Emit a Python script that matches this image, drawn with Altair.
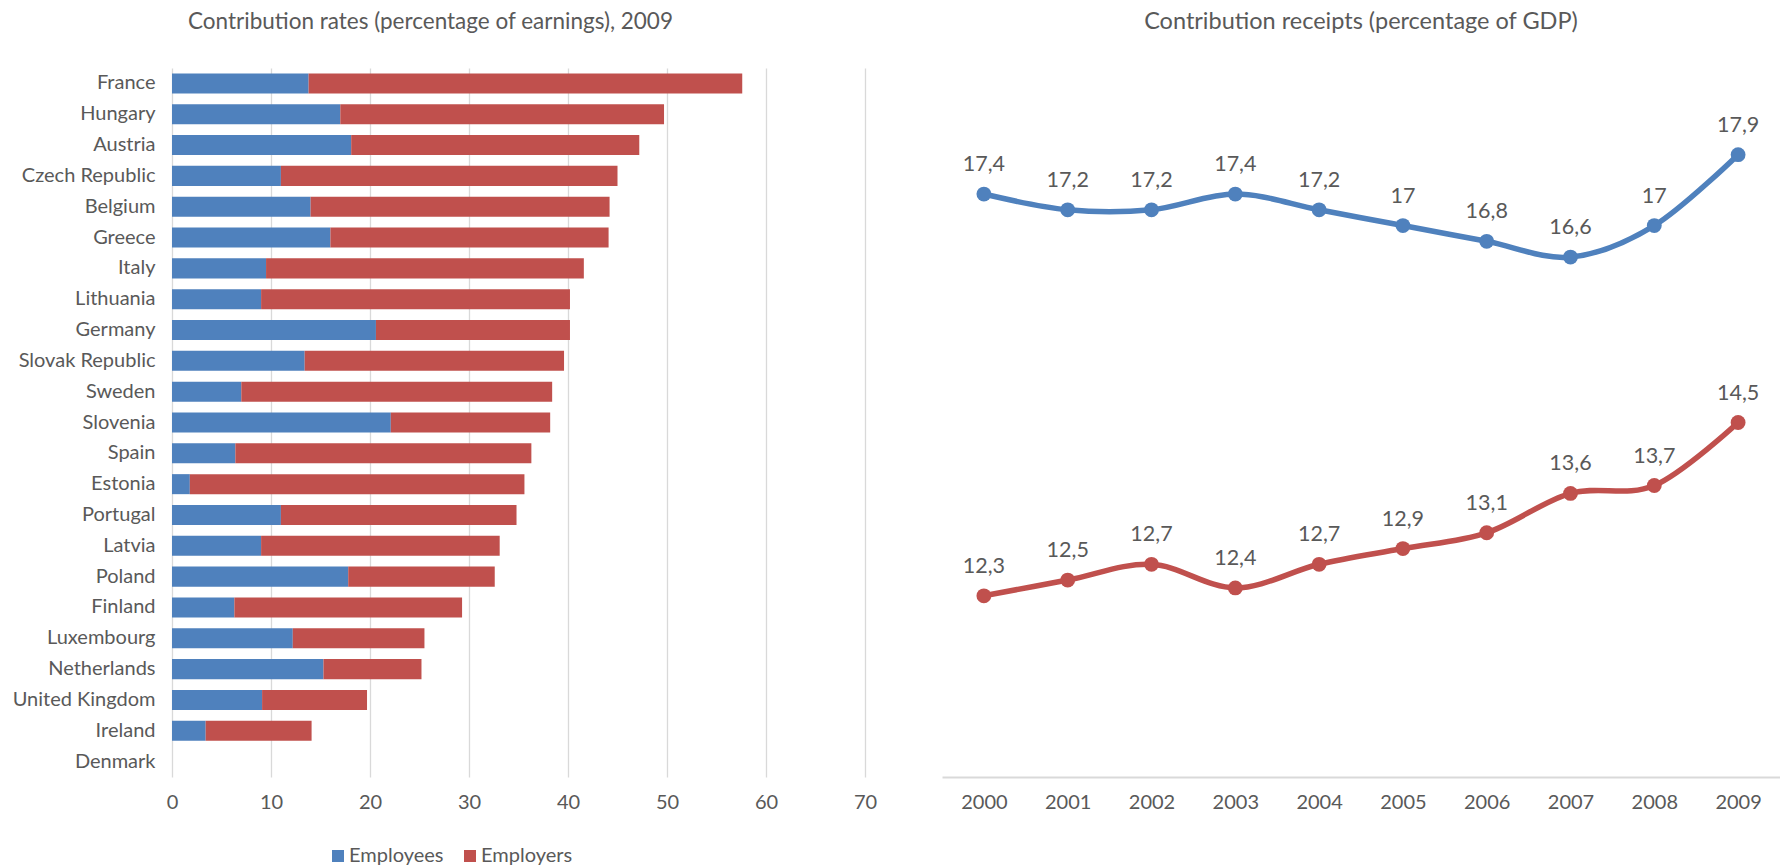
import altair as alt
import pandas as pd

# ---------------- data ----------------
countries = ["France", "Hungary", "Austria", "Czech Republic", "Belgium", "Greece",
             "Italy", "Lithuania", "Germany", "Slovak Republic", "Sweden", "Slovenia",
             "Spain", "Estonia", "Portugal", "Latvia", "Poland", "Finland",
             "Luxembourg", "Netherlands", "United Kingdom", "Ireland", "Denmark"]
employees = [13.8, 17.0, 18.1, 11.0, 14.0, 16.0, 9.5, 9.0, 20.6, 13.4, 7.0, 22.1,
             6.4, 1.8, 11.0, 9.0, 17.8, 6.3, 12.2, 15.3, 9.1, 3.4, 0.0]
employers = [43.8, 32.7, 29.1, 34.0, 30.2, 28.1, 32.1, 31.2, 19.6, 26.2, 31.4, 16.1,
             29.9, 33.8, 23.8, 24.1, 14.8, 23.0, 13.3, 9.9, 10.6, 10.7, 0.0]

years = ["2000", "2001", "2002", "2003", "2004", "2005", "2006", "2007", "2008", "2009"]
euro_area = [17.4, 17.2, 17.2, 17.4, 17.2, 17.0, 16.8, 16.6, 17.0, 17.9]
greece = [12.3, 12.5, 12.7, 12.4, 12.7, 12.9, 13.1, 13.6, 13.7, 14.5]

bar_types = ["Employees", "Employers"]
series_names = ["Euro area", "Greece"]
x_ticks = [0, 10, 20, 30, 40, 50, 60, 70]

# ---------------- style ----------------
FONT = "Lato"
TXT = "#595959"
BLUE = "#4F81BD"
RED = "#C0504D"
GRID = "#D9D9D9"
LBL = 20
TTL = 22.5

rows = []
for c, e, r in zip(countries, employees, employers):
    rows.append({"country": c, "type": bar_types[0], "value": e, "ord": 0})
    rows.append({"country": c, "type": bar_types[1], "value": r, "ord": 1})
bars_df = pd.DataFrame(rows)

lrows = []
for name, vals in zip(series_names, [euro_area, greece]):
    for y, v in zip(years, vals):
        lrows.append({"year": y, "series": name, "value": v})
line_df = pd.DataFrame(lrows)

# ---------------- left chart ----------------
left = alt.Chart(bars_df).mark_bar().encode(
    y=alt.Y("country:N", sort=countries, title=None,
            scale=alt.Scale(paddingInner=0.35, paddingOuter=0.175),
            axis=alt.Axis(ticks=False, domain=False, labelFontSize=LBL, labelFont=FONT,
                          labelColor=TXT, labelPadding=17, minExtent=172, maxExtent=172)),
    x=alt.X("value:Q", stack="zero", title=None,
            scale=alt.Scale(domain=[0, 70], nice=False),
            axis=alt.Axis(values=x_ticks, grid=True, gridColor=GRID, gridWidth=1.3,
                          domain=False, ticks=False, labelFontSize=LBL, labelFont=FONT,
                          labelColor=TXT, labelPadding=15, labelFlush=False)),
    color=alt.Color("type:N", scale=alt.Scale(domain=bar_types, range=[BLUE, RED]),
                    legend=alt.Legend(orient="none", legendX=156, legendY=778,
                                      direction="horizontal", title=None,
                                      symbolType="square", symbolSize=144,
                                      symbolStrokeWidth=0, labelFontSize=LBL,
                                      labelFont=FONT, labelColor=TXT,
                                      labelOffset=1, columnPadding=16)),
    order=alt.Order("ord:Q"),
).properties(
    width=693, height=709,
    title=alt.TitleParams("Contribution rates (percentage of earnings), 2009",
                          fontSize=TTL, font=FONT, color=TXT, fontWeight="normal",
                          anchor="middle", dx=-88, offset=35),
)

# ---------------- right chart ----------------
legend_path = ("M-1,-0.095 L1,-0.095 L1,0.095 L-1,0.095 Z "
               "M-0.26,0 A0.26,0.26 0 1,1 0.26,0 A0.26,0.26 0 1,1 -0.26,0 Z")

color_r = alt.Scale(domain=series_names, range=[BLUE, RED])
base = alt.Chart(line_df).encode(
    x=alt.X("year:O", title=None,
            scale=alt.Scale(type="point", padding=0.5),
            axis=alt.Axis(labelAngle=0, ticks=False, domain=True, domainColor=GRID,
                          domainWidth=2, grid=False, labelFontSize=LBL, labelFont=FONT,
                          labelColor=TXT, labelPadding=15)),
    y=alt.Y("value:Q", scale=alt.Scale(domain=[10, 19], nice=False, zero=False), axis=None),
)
lines = base.mark_line(interpolate="cardinal", strokeWidth=5.5).encode(
    color=alt.Color("series:N", scale=color_r, legend=None))
points = base.mark_circle(size=220, opacity=1).encode(
    color=alt.Color("series:N", scale=color_r,
                    legend=alt.Legend(orient="none", legendX=279, legendY=778,
                                      direction="horizontal", title=None,
                                      symbolType=legend_path, symbolSize=3249,
                                      symbolStrokeWidth=0, labelFontSize=LBL,
                                      labelFont=FONT, labelColor=TXT,
                                      labelOffset=1, columnPadding=21)))
labels = base.transform_calculate(
    lbl="replace(format(datum.value, '.3~g'), '.', ',')"
).mark_text(dy=-29, fontSize=21.5, font=FONT, color=TXT).encode(text="lbl:N")

right = alt.layer(lines, points, labels).properties(
    width=838, height=709,
    title=alt.TitleParams("Contribution receipts (percentage of GDP)",
                          fontSize=23.5, font=FONT, color=TXT, fontWeight="normal",
                          anchor="middle", offset=35),
)

chart = alt.hconcat(left, right, spacing=65).resolve_scale(color="independent").properties(
    padding={"left": 0, "top": 9, "right": 0, "bottom": 0},
    background="white",
).configure_view(stroke=None)

chart.save("out.html", embed_options={"renderer": "svg", "actions": False})
